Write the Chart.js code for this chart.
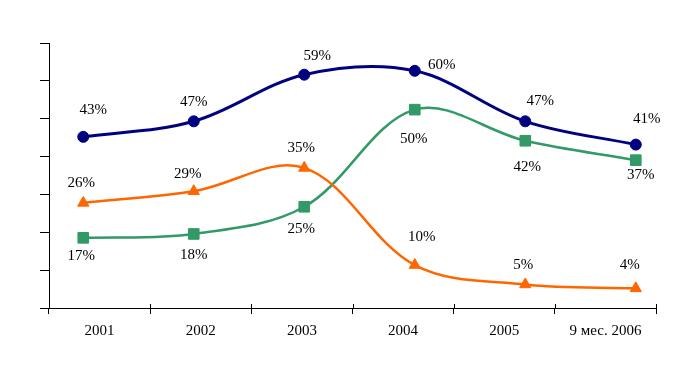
<!DOCTYPE html>
<html>
<head>
<meta charset="utf-8">
<script src="https://cdn.jsdelivr.net/npm/chart.js@4/dist/chart.umd.min.js"></script>
<style>
  html, body { margin: 0; padding: 0; background: #fff; }
  #wrap { width: 675px; height: 365px; }
</style>
</head>
<body>
<div id="wrap"><canvas id="chart"></canvas></div>
<script>
const years = ["2001", "2002", "2003", "2004", "2005", "9 мес. 2006"];
const blueValues = [43, 47, 59, 60, 47, 41];
const orangeValues = [26, 29, 35, 10, 5, 4];
const greenValues = [17, 18, 25, 50, 42, 37];

// label offsets (px) relative to each point, per series
const labelOffsets = [
  [[10, -27], [0, -19], [13, -19], [27, -6], [15, -20], [11, -26]],
  [[-2, -20], [-6, -17], [-3, -20], [7, -28], [-2, -19], [-6, -23]],
  [[-2, 18], [0, 21], [-3, 22], [-1, 29], [2, 26], [5, 15]]
];

const toPoints = vals => vals.map((v, i) => ({ x: i, y: v }));

const yMin = -1.06, yMax = 67.16;

const pointLabels = {
  id: "pointLabels",
  afterDatasetsDraw(chart) {
    const ctx = chart.ctx;
    ctx.save();
    ctx.font = "15px 'Liberation Serif'";
    ctx.fillStyle = "#000";
    ctx.textAlign = "center";
    ctx.textBaseline = "middle";
    chart.data.datasets.forEach((ds, di) => {
      chart.getDatasetMeta(di).data.forEach((pt, i) => {
        const off = labelOffsets[di][i];
        ctx.fillText(ds.data[i].y + "%", pt.x + off[0], pt.y + off[1]);
      });
    });
    ctx.restore();
  }
};

const xStubs = {
  id: "xStubs",
  afterDraw(chart) {
    const s = chart.scales.x2;
    const n = years.length;
    const ctx = chart.ctx;
    ctx.save();
    ctx.strokeStyle = "#000";
    ctx.lineWidth = 1;
    ctx.beginPath();
    for (let i = 0; i <= n; i++) {
      const x = Math.round(s.left + i * s.width / n) + 0.5;
      ctx.moveTo(x, s.top - 4);
      ctx.lineTo(x, s.top);
    }
    ctx.stroke();
    ctx.restore();
  }
};

new Chart(document.getElementById("chart"), {
  type: "line",
  data: {
    labels: years,
    datasets: [
      {
        data: toPoints(blueValues),
        borderColor: "#000080",
        backgroundColor: "#000080",
        borderWidth: 3,
        pointStyle: "circle",
        pointRadius: 5.5,
        pointBorderWidth: 1,
        tension: 0.35
      },
      {
        data: toPoints(orangeValues),
        borderColor: "#FF6600",
        backgroundColor: "#FF6600",
        borderWidth: 2.5,
        pointStyle: "triangle",
        pointRadius: 6.5,
        pointBorderWidth: 1,
        tension: 0.35
      },
      {
        data: toPoints(greenValues),
        borderColor: "#339966",
        backgroundColor: "#339966",
        borderWidth: 2.5,
        pointStyle: "rect",
        pointRadius: 7.5,
        pointBorderWidth: 1,
        tension: 0.35
      }
    ]
  },
  options: {
    responsive: true,
    maintainAspectRatio: false,
    animation: false,
    layout: { padding: { left: 40, right: 19, top: 43, bottom: 17 } },
    plugins: {
      legend: { display: false },
      tooltip: { enabled: false }
    },
    scales: {
      x: {
        type: "linear",
        display: false,
        min: -0.31,
        max: 5.183
      },
      x2: {
        type: "category",
        position: "bottom",
        offset: true,
        grid: {
          offset: true,
          drawOnChartArea: false,
          drawTicks: true,
          tickLength: 6,
          color: "#000"
        },
        border: { display: true, color: "#000", width: 1 },
        ticks: {
          color: "#000",
          padding: 8,
          font: { family: "'Liberation Serif'", size: 15 },
          maxRotation: 0,
          autoSkip: false
        }
      },
      y: {
        min: yMin,
        max: yMax,
        afterBuildTicks(scale) {
          const step = (yMax - yMin) / 7;
          scale.ticks = [0, 1, 2, 3, 4, 5, 6, 7].map(i => ({ value: yMin + i * step }));
        },
        grid: {
          drawOnChartArea: false,
          drawTicks: true,
          tickLength: 9,
          color: "#000"
        },
        border: { display: true, color: "#000", width: 1 },
        ticks: { display: false }
      }
    }
  },
  plugins: [pointLabels, xStubs]
});
</script>
</body>
</html>
